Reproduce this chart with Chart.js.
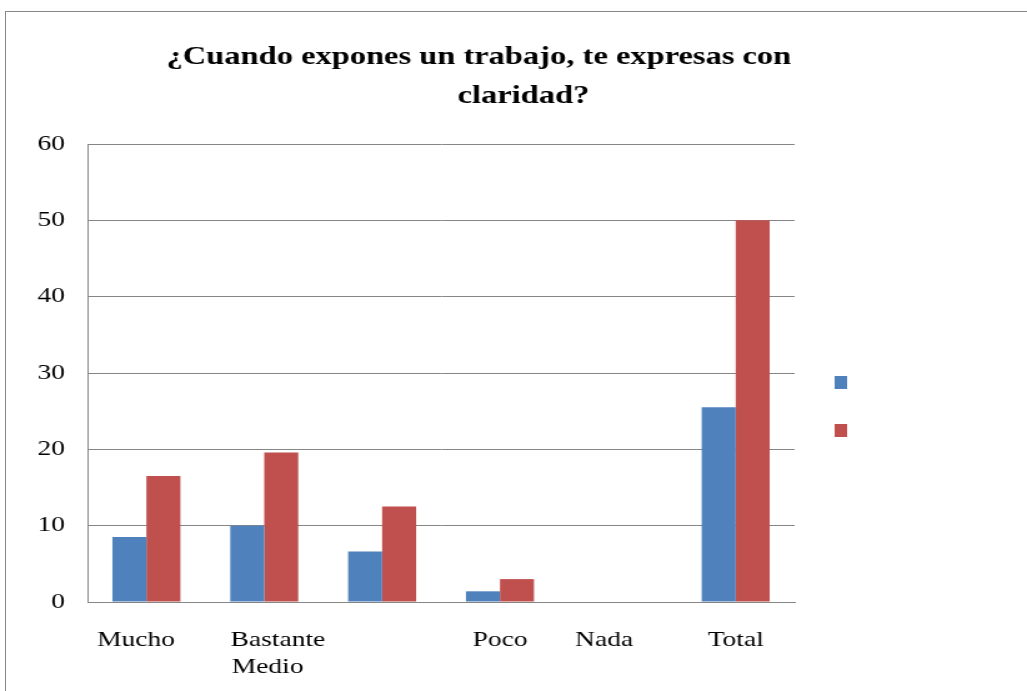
<!DOCTYPE html>
<html>
<head>
<meta charset="utf-8">
<script src="https://cdn.jsdelivr.net/npm/chart.js@4"></script>
<style>
  html, body { margin: 0; padding: 0; background: #fff; overflow: hidden; }
  #frame { position: absolute; left: 5px; top: 11px; width: 1100px; height: 800px; border: 1px solid #878787; }
  #wrap { position: absolute; left: 0; top: 0; width: 822px; height: 691px; transform: scaleX(1.2494); transform-origin: 0 0; }
</style>
</head>
<body>
<div id="frame"></div>
<div id="wrap"><canvas id="chart" width="822" height="691"></canvas></div>
<script>
// chart data
const categories = ["Mucho   ", ["    Bastante", "    Medio   "], "", "Poco", "Nada    ", "Total"];
const serieAzul = [8.5, 10, 6.6, 1.4, 0, 25.5];
const serieRoja = [16.5, 19.6, 12.5, 3, 0, 50];
const yTicks = [0, 10, 20, 30, 40, 50, 60];
const titleLines = ["         ¿Cuando expones un trabajo, te expresas con", "                    claridad?"];

const gris = "#868686";
const serif = "'Liberation Serif', 'Times New Roman', serif";

new Chart(document.getElementById("chart"), {
  type: "bar",
  data: {
    labels: categories,
    datasets: [
      { label: "", data: serieAzul, backgroundColor: "#4f81bd", borderWidth: 0 },
      { label: "", data: serieRoja, backgroundColor: "#c0504d", borderWidth: 0 },
    ],
  },
  options: {
    responsive: false,
    devicePixelRatio: 1,
    animation: false,
    layout: { padding: { left: 12, right: 126, top: 0, bottom: -6 } },
    datasets: { bar: { barPercentage: 1, categoryPercentage: 0.577 } },
    plugins: {
      title: {
        display: true,
        text: titleLines,
        color: "#000",
        font: { family: serif, size: 26, weight: "bold", lineHeight: 1.5 },
        padding: { top: 38, bottom: 28 },
      },
      legend: {
        position: "right",
        title: { display: true, text: "", font: { size: 10, lineHeight: 1 }, padding: { top: 106, bottom: 0 } },
        labels: { boxWidth: 10, boxHeight: 13, padding: 32, font: { size: 16 }, color: "#000" },
      },
      tooltip: { enabled: false },
    },
    scales: {
      x: {
        grid: { display: false },
        border: { display: true, color: gris, width: 1 },
        ticks: { color: "#000", padding: 16, maxRotation: 0, autoSkip: false, font: { family: serif, size: 22, lineHeight: 1.25 } },
      },
      y: {
        min: 0,
        max: 60,
        afterBuildTicks: (axis) => { axis.ticks = yTicks.map((v) => ({ value: v })); },
        grid: { color: gris, lineWidth: 1, drawTicks: false },
        border: { display: true, color: gris, width: 1 },
        ticks: { color: "#000", padding: 18, font: { family: serif, size: 22 } },
      },
    },
  },
});
</script>
</body>
</html>
